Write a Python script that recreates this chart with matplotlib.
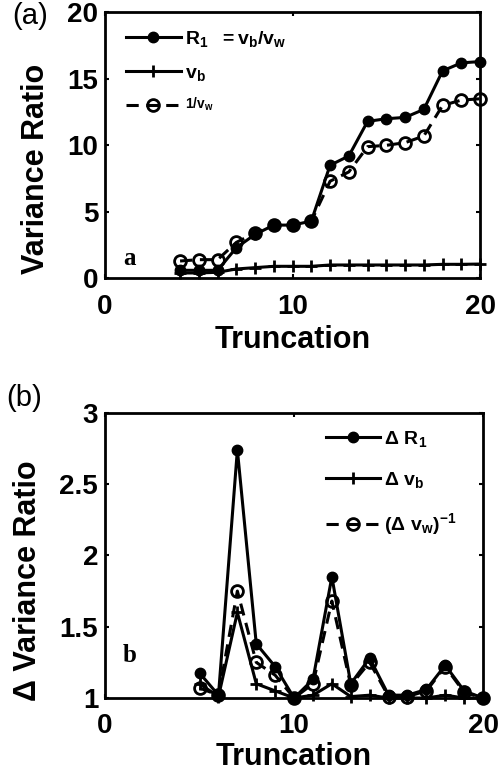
import matplotlib
matplotlib.use("Agg")
import matplotlib.pyplot as plt

plt.rcParams["font.family"] = "Liberation Sans"
plt.rcParams["font.weight"] = "bold"
plt.rcParams["axes.labelweight"] = "bold"
plt.rcParams["mathtext.fontset"] = "custom"
plt.rcParams["mathtext.rm"] = "Liberation Sans:bold"
plt.rcParams["mathtext.it"] = "Liberation Sans:bold"
plt.rcParams["mathtext.bf"] = "Liberation Sans:bold"
plt.rcParams["mathtext.default"] = "rm"

# truncation levels
trunc = list(range(4, 21))
r1 = [0.6, 0.6, 0.6, 2.3, 3.3, 4.0, 4.0, 4.3, 8.5, 9.2, 11.8, 12.0, 12.1, 12.7, 15.6, 16.2, 16.3]
vb = [0.4, 0.4, 0.45, 0.7, 0.8, 0.9, 0.9, 0.9, 1.0, 1.0, 1.0, 1.0, 1.0, 1.0, 1.05, 1.05, 1.07]
inv_vw = [1.3, 1.4, 1.4, 2.7, 3.4, 4.0, 4.0, 4.3, 7.3, 8.0, 9.9, 10.0, 10.2, 10.7, 13.0, 13.4, 13.5]

# successive ratios
dtrunc = list(range(5, 21))
d_r1 = [1.175, 1.02, 2.74, 1.38, 1.22, 1.0, 1.13, 1.85, 1.10, 1.28, 1.02, 1.02, 1.06, 1.23, 1.05, 1.0]
d_vb = [1.1, 1.01, 1.6, 1.1, 1.05, 1.0, 1.02, 1.1, 1.01, 1.02, 1.0, 1.0, 1.0, 1.02, 1.0, 1.0]
d_inv_vw = [1.07, 1.02, 1.75, 1.25, 1.16, 1.0, 1.1, 1.68, 1.09, 1.25, 1.01, 1.01, 1.05, 1.22, 1.04, 1.0]

fig = plt.figure(figsize=(4.98, 7.73), dpi=100)
ax1 = fig.add_axes([0.211, 0.640, 0.753, 0.344])
ax2 = fig.add_axes([0.211, 0.097, 0.759, 0.369])

lw = 2.2
kw = dict(color="black", lw=lw, clip_on=False, zorder=3)
open_kw = dict(marker="o", ms=8.5, mfc="none", mew=2, ls=(0, (4, 2.5)))

ax1.plot(trunc, r1, marker="o", ms=7.5, label=r"$R_1\ \ = v_b/v_w$", **kw)
ax1.plot(trunc, vb, marker="+", ms=8, mew=2, label=r"$v_b$", **kw)
ax1.plot(trunc, inv_vw, label=r"$^{1/v_w}$", **open_kw, **kw)

ax2.plot(dtrunc, d_r1, marker="o", ms=7.5, label=r"$\Delta\ R_1$", **kw)
ax2.plot(dtrunc, d_vb, marker="+", ms=8, mew=2, label=r"$\Delta\ v_b$", **kw)
ax2.plot(dtrunc, d_inv_vw, label=r"$(\Delta\ v_w)^{-1}$", **open_kw, **kw)

ax1.set_xlim(0, 20)
ax1.set_ylim(0, 20)
ax1.set_xticks([0, 10, 20])
ax1.set_yticks([0, 5, 10, 15, 20])
ax1.set_ylabel("Variance Ratio", fontsize=22)
ax1.set_xlabel("Truncation", fontsize=22, labelpad=4)
ax1.yaxis.set_label_coords(-0.145, 0.41)

ax2.set_xlim(0, 20)
ax2.set_ylim(1, 3)
ax2.set_xticks([0, 10, 20])
ax2.set_yticks([1, 1.5, 2, 2.5, 3])
ax2.set_yticklabels(["1", "1.5", "2", "2.5", "3"])
ax2.set_ylabel("\u0394 Variance Ratio", fontsize=22)
ax2.set_xlabel("Truncation", fontsize=22, labelpad=2)
ax2.yaxis.set_label_coords(-0.165, 0.41)

for ax in (ax1, ax2):
    ax.tick_params(direction="in", length=3, width=1.5, top=True, right=True,
                   labelsize=20)
    ax.tick_params(axis="x", pad=11)
    ax.tick_params(axis="y", pad=5)
    for s in ax.spines.values():
        s.set_linewidth(2)

ax1.legend(loc="upper left", frameon=False, fontsize=14, handlelength=2.8,
           labelspacing=0.8, borderaxespad=0.3, handletextpad=0.2,
           bbox_to_anchor=(0.02, 0.99))
ax2.legend(loc="upper right", frameon=False, fontsize=14, handlelength=2.8,
           labelspacing=1.1, borderaxespad=0.2, handletextpad=0.2,
           bbox_to_anchor=(0.96, 0.985))

ax1.text(1.3, 1.5, "a", family="Liberation Serif", weight="bold", fontsize=18,
         ha="center", va="center")
ax2.text(1.3, 1.3, "b", family="Liberation Serif", weight="bold", fontsize=18,
         ha="center", va="center")

fig.text(0.025, 0.998, "(a)", fontsize=21, weight="normal", va="top")
fig.text(0.012, 0.503, "(b)", fontsize=21, weight="normal", va="top")

fig.savefig("out.png", dpi=100)
